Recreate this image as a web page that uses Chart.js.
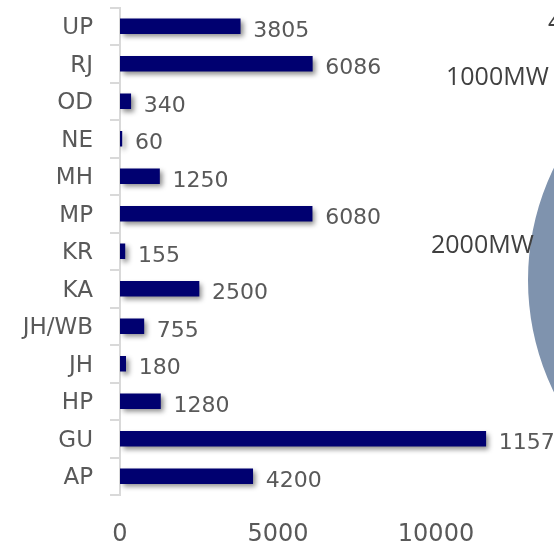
<!DOCTYPE html>
<html>
<head>
<meta charset="utf-8">
<script src="https://cdn.jsdelivr.net/npm/chart.js@4.4.1/dist/chart.umd.min.js"></script>
<style>
  html, body { margin: 0; padding: 0; background: #ffffff; overflow: hidden; width: 554px; height: 548px; }
  #wrap { position: relative; width: 554px; height: 548px; overflow: hidden; }
  #bar { position: absolute; left: 0; top: 0; }
  #bubble { position: absolute; left: 528px; top: 24px; }
  .note { position: absolute; font-family: 'Open Sans', sans-serif; font-size: 25px; color: #404040; white-space: nowrap; line-height: 1; }
</style>
</head>
<body>
<div id="wrap">
  <canvas id="bubble" width="512" height="512"></canvas>
  <canvas id="bar" width="680" height="548"></canvas>
  <div class="note" style="left:548px; top:8px;">4</div>
  <div class="note" style="left:446px; top:63px;">1000MW</div>
  <div class="note" style="left:431px; top:231px;">2000MW</div>
</div>
<script>
const categories = ['UP', 'RJ', 'OD', 'NE', 'MH', 'MP', 'KR', 'KA', 'JH/WB', 'JH', 'HP', 'GU', 'AP'];
const capacityMW = [3805, 6086, 340, 60, 1250, 6080, 155, 2500, 755, 180, 1280, 11575, 4200];
const xTicks = [0, 5000, 10000, 15000];
const bubbleValue = [1];

const shadowPlugin = {
  id: 'barShadow',
  beforeDatasetDraw(chart) {
    const ctx = chart.ctx;
    ctx.save();
    ctx.shadowColor = 'rgba(0,0,0,0.45)';
    ctx.shadowBlur = 5;
    ctx.shadowOffsetX = 3;
    ctx.shadowOffsetY = 3;
  },
  afterDatasetDraw(chart) {
    chart.ctx.restore();
  }
};

const labelPlugin = {
  id: 'valueLabels',
  afterDatasetsDraw(chart) {
    const ctx = chart.ctx;
    const meta = chart.getDatasetMeta(0);
    ctx.save();
    ctx.font = '22px "DejaVu Sans", sans-serif';
    ctx.fillStyle = '#595959';
    ctx.textAlign = 'left';
    ctx.textBaseline = 'middle';
    meta.data.forEach((el, i) => {
      const v = chart.data.datasets[0].data[i];
      ctx.fillText(String(v), el.x + 13, el.y + 5);
    });
    ctx.restore();
  }
};

new Chart(document.getElementById('bar'), {
  type: 'bar',
  data: {
    labels: categories,
    datasets: [{
      data: capacityMW,
      backgroundColor: '#000070',
      borderWidth: 0,
      barThickness: 15
    }]
  },
  options: {
    indexAxis: 'y',
    responsive: false,
    animation: false,
    devicePixelRatio: 1,
    layout: { padding: { left: 0, right: 86, top: 7.5, bottom: 0 } },
    plugins: { legend: { display: false }, tooltip: { enabled: false } },
    scales: {
      x: {
        min: 0,
        max: 15000,
        afterBuildTicks(scale) { scale.ticks = xTicks.map(v => ({ value: v })); },
        afterFit(scale) { scale.height = 53; scale.paddingLeft = 0; scale.paddingRight = 0; },
        grid: { display: false, drawTicks: false },
        border: { display: false },
        ticks: {
          padding: 25,
          color: '#595959',
          font: { family: 'DejaVu Sans', size: 24 },
          callback: (v) => String(v)
        }
      },
      y: {
        afterFit(scale) { scale.width = 120; scale.paddingTop = 0; scale.paddingBottom = 0; },
        grid: {
          display: true,
          drawOnChartArea: false,
          drawTicks: true,
          tickLength: 10,
          color: '#d9d9d9',
          lineWidth: 2
        },
        border: { display: true, color: '#d9d9d9', width: 2 },
        ticks: {
          padding: 17,
          labelOffset: 2,
          color: '#595959',
          font: { family: 'DejaVu Sans', size: 23 }
        }
      }
    }
  },
  plugins: [shadowPlugin, labelPlugin]
});

new Chart(document.getElementById('bubble'), {
  type: 'pie',
  data: {
    labels: ['capacity'],
    datasets: [{ data: bubbleValue, backgroundColor: '#7f93ae', borderWidth: 0 }]
  },
  options: {
    responsive: false,
    animation: false,
    devicePixelRatio: 1,
    layout: { padding: 0 },
    plugins: { legend: { display: false }, tooltip: { enabled: false } }
  }
});
</script>
</body>
</html>
